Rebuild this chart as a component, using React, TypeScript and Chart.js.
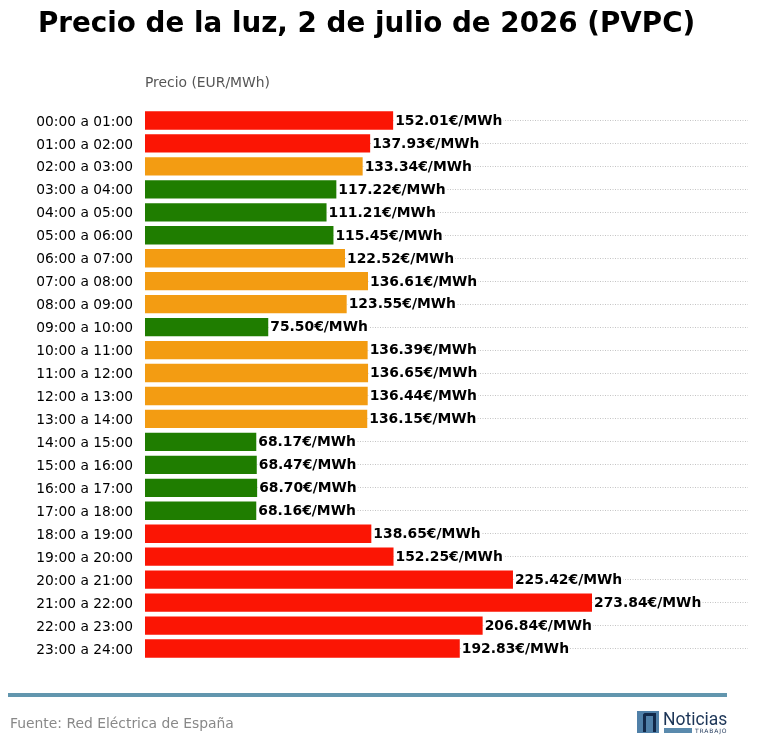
import { useEffect, useRef } from 'react';
import { Chart, registerables } from 'chart.js';

Chart.register(...registerables);

const FONT = '"DejaVu Sans", sans-serif';
const RED = '#fb1504';
const ORANGE = '#f39c12';
const GREEN = '#1f7d00';

const hours = [
  '00:00 a 01:00', '01:00 a 02:00', '02:00 a 03:00', '03:00 a 04:00',
  '04:00 a 05:00', '05:00 a 06:00', '06:00 a 07:00', '07:00 a 08:00',
  '08:00 a 09:00', '09:00 a 10:00', '10:00 a 11:00', '11:00 a 12:00',
  '12:00 a 13:00', '13:00 a 14:00', '14:00 a 15:00', '15:00 a 16:00',
  '16:00 a 17:00', '17:00 a 18:00', '18:00 a 19:00', '19:00 a 20:00',
  '20:00 a 21:00', '21:00 a 22:00', '22:00 a 23:00', '23:00 a 24:00',
];

const prices = [
  152.01, 137.93, 133.34, 117.22, 111.21, 115.45, 122.52, 136.61,
  123.55, 75.5, 136.39, 136.65, 136.44, 136.15, 68.17, 68.47,
  68.7, 68.16, 138.65, 152.25, 225.42, 273.84, 206.84, 192.83,
];

const barColors = [
  RED, RED, ORANGE, GREEN, GREEN, GREEN, ORANGE, ORANGE,
  ORANGE, GREEN, ORANGE, ORANGE, ORANGE, ORANGE, GREEN, GREEN,
  GREEN, GREEN, RED, RED, RED, RED, RED, RED,
];

// hour labels and the values at the end of each bar.
// white box hides the dotted line behind the value text
const rowLabels = {
  id: 'rowLabels',
  afterDatasetsDraw(chart: Chart) {
    const { ctx } = chart;
    const yScale = chart.scales.y;
    const meta = chart.getDatasetMeta(0);
    ctx.save();
    ctx.textBaseline = 'middle';
    ctx.fillStyle = '#000';
    ctx.font = `13.8px ${FONT}`;
    ctx.textAlign = 'right';
    hours.forEach((hour, i) => {
      ctx.fillText(hour, yScale.right - 12, yScale.getPixelForTick(i) + 1.5);
    });
    ctx.font = `bold 13.89px ${FONT}`;
    ctx.textAlign = 'left';
    meta.data.forEach((bar: any, i: number) => {
      const text = `${prices[i].toFixed(2)}€/MWh`;
      const w = ctx.measureText(text).width;
      ctx.fillStyle = '#fff';
      ctx.fillRect(bar.x + 1, bar.y - 8, w + 2, 16);
      ctx.fillStyle = '#000';
      ctx.fillText(text, bar.x + 2, bar.y + 0.75);
    });
    ctx.restore();
  },
};

function abs(left: number, top: number, extra: React.CSSProperties): React.CSSProperties {
  return { position: 'absolute', left, top, fontFamily: FONT, whiteSpace: 'nowrap', ...extra };
}

export default function App() {
  const canvasRef = useRef<HTMLCanvasElement>(null);

  useEffect(() => {
    if (!canvasRef.current) return;
    const chart = new Chart(canvasRef.current, {
      type: 'bar',
      data: {
        labels: hours,
        datasets: [
          {
            data: prices,
            backgroundColor: barColors,
            categoryPercentage: 1,
            barPercentage: 0.8,
          },
        ],
      },
      options: {
        indexAxis: 'y',
        responsive: false,
        animation: false,
        layout: { padding: { top: 109, bottom: 95, right: 10 } },
        plugins: {
          legend: { display: false },
          tooltip: { enabled: false },
        },
        scales: {
          x: { display: false, min: 0, max: 369.4 },
          y: {
            afterFit: (scale: any) => {
              scale.width = 145;
            },
            border: { display: false, dash: [1, 1.5] },
            grid: {
              offset: false,
              drawTicks: false,
              color: '#c4c4c4',
              lineWidth: 1,
            },
            ticks: { display: false, autoSkip: false },
          },
        },
      },
      plugins: [rowLabels],
    } as any);

    return () => {
      chart.destroy();
    };
  }, []);

  return (
    <div style={{ position: 'absolute', left: 0, top: 0, width: 758, height: 755, overflow: 'hidden', background: '#fff' }}>
      <canvas ref={canvasRef} width={758} height={755} style={{ position: 'absolute', left: 0, top: 0 }} />
      <div style={abs(38, 7, { fontSize: 27.78, fontWeight: 700, color: '#000', lineHeight: '32px' })}>
        Precio de la luz, 2 de julio de 2026 (PVPC)
      </div>
      <div style={abs(145, 74, { fontSize: 13.89, color: '#555', lineHeight: '16px' })}>Precio (EUR/MWh)</div>
      <div style={{ position: 'absolute', left: 8, top: 693, width: 719, height: 4, background: '#6296ae' }} />
      <div style={abs(10, 715, { fontSize: 13.89, color: '#888', lineHeight: '17px' })}>Fuente: Red Eléctrica de España</div>
      <div style={{ position: 'absolute', left: 637, top: 711, width: 22, height: 22, background: '#5080a8' }} />
      <div style={{ position: 'absolute', left: 643, top: 713, width: 7, height: 16, borderTop: '3px solid #12294a', borderLeft: '3px solid #12294a', borderRight: '3px solid #12294a', borderTopLeftRadius: 3, boxSizing: 'content-box' }} />
      <div style={abs(663, 708, { fontSize: 19, lineHeight: '21px', color: '#1c3557', fontFamily: 'Roboto', transform: 'scaleX(0.92)', transformOrigin: 'left top' })}>Noticias</div>
      <div style={{ position: 'absolute', left: 664, top: 728, width: 28, height: 5, background: '#5a8aad' }} />
      <div style={abs(695, 727, { fontSize: 6, lineHeight: '7px', color: '#1c3557', letterSpacing: 0.85 })}>TRABAJO</div>
    </div>
  );
}
